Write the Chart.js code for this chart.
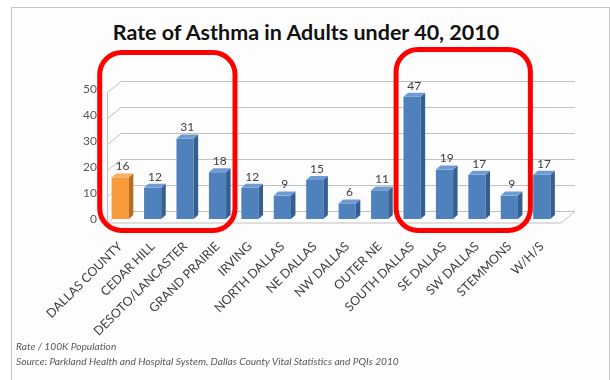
<!DOCTYPE html>
<html>
<head>
<meta charset="utf-8">
<script src="https://cdn.jsdelivr.net/npm/chart.js@4.4.1/dist/chart.umd.min.js"></script>
<style>
  html, body { margin: 0; padding: 0; background: #fff; }
  #wrap { position: relative; width: 610px; height: 380px; overflow: hidden; }
  #frame { position: absolute; left: 11px; top: 7px; width: 597px; height: 400px;
           border: 1px solid #c6c6c6; border-bottom: none; background: #fdfdfd; }
  #title { position: absolute; left: 0; width: 612px; top: 19px; text-align: center;
           font: bold 21.5px Lato, sans-serif; color: #111; }
  .note { position: absolute; left: 16px; font: italic 10.2px Lato, sans-serif; color: #595959; white-space: nowrap; }
  canvas { position: absolute; left: 0; top: 0; }
</style>
</head>
<body>
<div id="wrap">
  <div id="frame"></div>
  <div id="title">Rate of Asthma in Adults under 40, 2010</div>
  <canvas id="c" width="610" height="380"></canvas>
  <div class="note" style="top:340px">Rate / 100K Population</div>
  <div class="note" style="top:355px">Source: Parkland Health and Hospital System, Dallas County Vital Statistics and PQIs 2010</div>
</div>
<script>
// data
const areas = ['DALLAS COUNTY', 'CEDAR HILL', 'DESOTO/LANCASTER', 'GRAND PRAIRIE', 'IRVING',
  'NORTH DALLAS', 'NE DALLAS', 'NW DALLAS', 'OUTER NE', 'SOUTH DALLAS', 'SE DALLAS',
  'SW DALLAS', 'STEMMONS', 'W/H/S'];
const rates = [16, 12, 31, 18, 12, 9, 15, 6, 11, 47, 19, 17, 9, 17];
const yTicks = [0, 10, 20, 30, 40, 50];
// highlighted groups (first and last category index)
const boxes = [[0, 3], [9, 12]];

const front = ['#f79a3a', '#4f81bd'];
const side = ['#b96c1c', '#365f91'];
const top_ = ['#f9b062', '#6f9bd2'];
const isCounty = (i) => i === 0 ? 0 : 1;

// 3d look: floor / wall offsets and bar depth
const FRONT = { dx: 3, dy: 3.5 };
const BACK = { dx: 17, dy: -8 };
const DEPTH = { dx: 4.5, dy: -4 };

const fake3d = {
  id: 'fake3d',
  beforeDatasetsDraw(chart) {
    const { ctx, chartArea: a, scales: { y } } = chart;
    ctx.save();
    ctx.strokeStyle = '#c0c0c0';
    ctx.lineWidth = 1;
    ctx.beginPath();
    yTicks.forEach(v => {
      const py = Math.round(y.getPixelForValue(v)) + 0.5;
      ctx.moveTo(a.left + FRONT.dx, py + FRONT.dy);
      ctx.lineTo(a.left + BACK.dx, py + BACK.dy);
      ctx.lineTo(a.right + BACK.dx, py + BACK.dy);
    });
    const y0 = Math.round(y.getPixelForValue(0)) + 0.5;
    const y50 = Math.round(y.getPixelForValue(50)) + 0.5;
    ctx.moveTo(a.left + FRONT.dx + 0.5, y50 + FRONT.dy);
    ctx.lineTo(a.left + FRONT.dx + 0.5, y0 + FRONT.dy);
    ctx.lineTo(a.right + FRONT.dx, y0 + FRONT.dy);
    ctx.lineTo(a.right + BACK.dx, y0 + BACK.dy);
    ctx.stroke();
    ctx.restore();
  },
  afterDatasetsDraw(chart) {
    const { ctx } = chart;
    const meta = chart.getDatasetMeta(0);
    ctx.save();
    meta.data.forEach((bar, i) => {
      const c = isCounty(i);
      const l = bar.x - bar.width / 2, r = bar.x + bar.width / 2;
      ctx.fillStyle = side[c];
      ctx.beginPath();
      ctx.moveTo(r, bar.y);
      ctx.lineTo(r + DEPTH.dx, bar.y + DEPTH.dy);
      ctx.lineTo(r + DEPTH.dx, bar.base + DEPTH.dy);
      ctx.lineTo(r, bar.base);
      ctx.closePath();
      ctx.fill();
      ctx.fillStyle = top_[c];
      ctx.beginPath();
      ctx.moveTo(l, bar.y);
      ctx.lineTo(r, bar.y);
      ctx.lineTo(r + DEPTH.dx, bar.y + DEPTH.dy);
      ctx.lineTo(l + DEPTH.dx, bar.y + DEPTH.dy);
      ctx.closePath();
      ctx.fill();
      // value label
      ctx.fillStyle = '#404040';
      ctx.font = '12px Lato, sans-serif';
      ctx.textAlign = 'center';
      ctx.textBaseline = 'bottom';
      ctx.fillText(String(rates[i]), bar.x + DEPTH.dx / 2, bar.y + DEPTH.dy - 1);
    });
    ctx.restore();
  },
  afterDraw(chart) {
    const { ctx, scales: { x, y } } = chart;
    ctx.save();
    ctx.strokeStyle = '#ff0000';
    ctx.lineWidth = 5;
    boxes.forEach(([i0, i1], k) => {
      const l = x.getPixelForValue(i0) - (k ? 16 : 20.5);
      const r = x.getPixelForValue(i1) + (k ? 21 : 17.5);
      const t = y.getPixelForValue(50) - (k ? 39.5 : 36.5);
      const b = y.getPixelForValue(0) + 11.5;
      ctx.beginPath();
      ctx.roundRect(l, t, r - l, b - t, 22);
      ctx.stroke();
    });
    ctx.restore();
  }
};

new Chart(document.getElementById('c'), {
  type: 'bar',
  data: {
    labels: areas,
    datasets: [{
      data: rates,
      backgroundColor: rates.map((v, i) => front[isCounty(i)]),
      borderWidth: 0,
      barPercentage: 0.53,
      categoryPercentage: 1
    }]
  },
  options: {
    responsive: false,
    animation: false,
    events: [],
    layout: { padding: { top: 89, right: 52, left: 0, bottom: 0 } },
    plugins: { legend: { display: false }, tooltip: { enabled: false } },
    scales: {
      x: {
        grid: { display: false, drawTicks: false },
        border: { display: false },
        afterFit: (s) => { s.height = 161; },
        ticks: {
          autoSkip: false, maxRotation: 45, minRotation: 45, padding: 20,
          color: '#404040', font: { family: 'Lato', size: 12.5 }
        }
      },
      y: {
        min: 0, max: 50,
        grid: { display: false, drawTicks: false },
        border: { display: false },
        afterFit: (s) => { s.width = 104; },
        afterBuildTicks: (s) => { s.ticks = yTicks.map(v => ({ value: v })); },
        ticks: { padding: 7, color: '#595959', font: { family: 'Lato', size: 12 } }
      }
    }
  },
  plugins: [fake3d]
});
</script>
</body>
</html>
